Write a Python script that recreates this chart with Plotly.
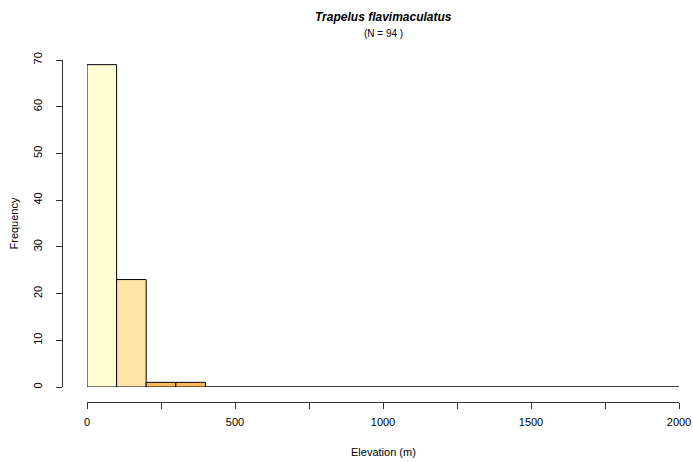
import plotly.graph_objects as go

# ---- data ----
bin_edges = [0, 100, 200, 300, 400, 500, 600, 700, 800, 900, 1000,
             1100, 1200, 1300, 1400, 1500, 1600, 1700, 1800, 1900, 2000]
counts = [69, 23, 1, 1, 0, 0, 0, 0, 0, 0, 0, 0, 0, 0, 0, 0, 0, 0, 0, 0]
bar_colors = ["#FFFFD4", "#FEE3A6", "#FEB65C", "#FEB65C"] + ["#FE9929"] * 16
x_tickvals = [0, 250, 500, 750, 1000, 1250, 1500, 1750, 2000]
x_ticktext = ["0", "", "500", "", "1000", "", "1500", "", "2000"]
y_tickvals = [0, 10, 20, 30, 40, 50, 60, 70]
title_text = "Trapelus flavimaculatus"
n_total = 94

W, H = 693, 462
ML, MR, MT, MB = 62, 14, 60, 60
pw = W - ML - MR
ph = H - MT - MB
x_dom0 = (87 - ML) / pw
y_dom0 = (402 - 387) / ph

fig = go.Figure()

# polygons for every bin (zero-height bins show as a baseline)
for i, c in enumerate(counts):
    x0, x1 = bin_edges[i], bin_edges[i + 1]
    fig.add_trace(go.Scatter(
        x=[x0, x0, x1, x1, x0], y=[0, c, c, 0, 0],
        mode="lines", fill="toself", fillcolor=bar_colors[i],
        line=dict(color="black", width=1), hoverinfo="skip", showlegend=False))

font = "Liberation Sans, Arial, Helvetica, sans-serif"

fig.update_layout(
    width=W, height=H,
    margin=dict(l=ML, r=MR, t=MT, b=MB, pad=0, autoexpand=False),
    paper_bgcolor="white", plot_bgcolor="white",
    font=dict(family=font, size=11, color="black"),
    showlegend=False,
    xaxis=dict(domain=[x_dom0, 1], range=[bin_edges[0], bin_edges[-1]],
               anchor="free", position=0, automargin=False,
               showline=True, linecolor="#333", linewidth=1,
               ticks="outside", ticklen=6, tickcolor="#333", tickwidth=1,
               tickvals=x_tickvals, ticktext=x_ticktext,
               ticklabelstandoff=4,
               showgrid=False, zeroline=False, tickfont=dict(size=11)),
    yaxis=dict(domain=[y_dom0, 1], range=[0, 70],
               anchor="free", position=0, automargin=False,
               showline=True, linecolor="#333", linewidth=1,
               ticks="outside", ticklen=6, tickcolor="#333", tickwidth=1,
               tickvals=y_tickvals, tickangle=-90,
               ticklabelstandoff=10,
               showgrid=False, zeroline=False, tickfont=dict(size=11)),
)

fig.add_annotation(text="<b><i>" + title_text + "</i></b>",
                   xref="x domain", yref="paper", x=0.5, y=1,
                   yshift=(60 - 17), xanchor="center", yanchor="middle",
                   showarrow=False, font=dict(size=12, family=font))
fig.add_annotation(text="(N = %d )" % n_total,
                   xref="x domain", yref="paper", x=0.5, y=1,
                   yshift=(60 - 33), xanchor="center", yanchor="middle",
                   showarrow=False, font=dict(size=10, family=font))
fig.add_annotation(text="Elevation (m)",
                   xref="x domain", yref="paper", x=0.5, y=0,
                   yshift=-(452 - 402), xanchor="center", yanchor="middle",
                   showarrow=False, font=dict(size=11, family=font))
fig.add_annotation(text="Frequency", textangle=-90,
                   xref="paper", yref="y domain", x=0, y=0.5,
                   xshift=(13 - ML), xanchor="center", yanchor="middle",
                   showarrow=False, font=dict(size=11, family=font))

fig.write_html("out.html", config={"displayModeBar": False},
               post_script="document.body.style.margin='0';document.body.style.overflow='hidden';")
